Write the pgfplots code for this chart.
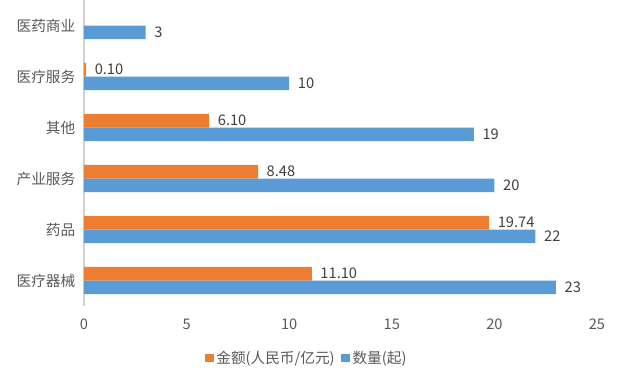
\documentclass[border=0pt]{standalone}
\usepackage{fontspec}
\setmainfont{Noto Sans CJK SC}
\usepackage{pgfplots}
\pgfplotsset{compat=1.18}
\definecolor{cOr}{HTML}{ED7D31}
\definecolor{cBl}{HTML}{5B9BD5}
\definecolor{txt}{HTML}{595959}
\definecolor{lbl}{HTML}{404040}
\pgfkeys{/pgf/number format/assume math mode=true}
\begin{document}
\begin{tikzpicture}
\path[use as bounding box] (-63pt,-57pt) rectangle (405.75pt,229.5pt);
\begin{axis}[
  at={(0,0)}, anchor=south west,
  scale only axis, width=384.75pt, height=229.5pt,
  xmin=0, xmax=25, ymin=-0.5, ymax=5.5,
  xtick={0,5,...,25}, ytick={0,...,5},
  yticklabels={医疗器械,药品,产业服务,其他,医疗服务,医药商业},
  axis y line*=left, axis x line*=bottom,
  x axis line style={draw=none},
  y axis line style={draw=black!18, -, line width=0.8pt},
  major tick length=0pt,
  tick label style={font=\fontsize{11pt}{13pt}\selectfont, text=txt},
  xticklabel style={yshift=-6pt},
  yticklabel style={xshift=-3pt},
  xbar, bar width=0.265,
  legend style={at={(0.435,-0.17)}, anchor=center, draw=none, fill=none,
    legend columns=2, font=\fontsize{11pt}{13pt}\selectfont, text=txt,
    /tikz/every even column/.style={column sep=3pt}},
  legend image code/.code={\fill[#1] (0pt,-3.2pt) rectangle (6.4pt,3.2pt);},
  every node near coord/.append style={font=\fontsize{11pt}{13pt}\selectfont, text=lbl, anchor=west, xshift=3pt},
]
\addplot[fill=cOr, draw=none, bar shift=0.1325,
  nodes near coords={\pgfmathprintnumber[fixed,fixed zerofill,precision=2,assume math mode=true]{\pgfplotspointmeta}}]
  coordinates {(11.10,0) (19.74,1) (8.48,2) (6.10,3) (0.10,4)};
\addlegendentry{金额(人民币/亿元)}
\addplot[fill=cBl, draw=none, bar shift=-0.1325,
  nodes near coords={\pgfmathprintnumber[fixed,precision=0,assume math mode=true]{\pgfplotspointmeta}}]
  coordinates {(23,0) (22,1) (20,2) (19,3) (10,4) (3,5)};
\addlegendentry{数量(起)}
\end{axis}
\end{tikzpicture}
\end{document}
